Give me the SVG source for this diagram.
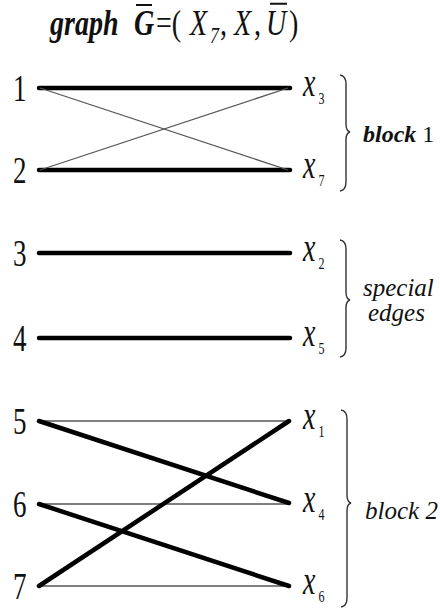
<svg xmlns="http://www.w3.org/2000/svg" width="440" height="609" viewBox="0 0 440 609" font-family="Liberation Serif, DejaVu Serif, serif">
<style>
text{fill:#111}
.num{font-size:27px}
.xl{font-size:28px;font-style:italic}
.sub{font-size:12px;font-style:normal}
.lab{font-size:25px;font-style:italic}
.thick{stroke:#000;stroke-width:4.5;stroke-linecap:round;fill:none}
.thin{stroke:#555;stroke-width:1.3;fill:none}
.br{stroke:#333;stroke-width:1.4;fill:none}
</style>
<g id="title" transform="translate(0,35) scale(1,1.25)">
<text x="50" y="0" font-size="28" font-style="italic" font-weight="bold">graph</text>
<text x="134" y="0" font-size="28" font-style="italic" font-weight="bold">G</text>
<line x1="136" y1="-24" x2="152" y2="-24" stroke="#111" stroke-width="1.6"/>
<text x="156" y="0" font-size="28">=(</text>
<text x="190" y="0" font-size="28" font-style="italic">X</text>
<text x="210" y="6" font-size="18" font-style="italic">7</text>
<text x="220" y="0" font-size="28">,</text>
<text x="234" y="0" font-size="28" font-style="italic">X</text>
<text x="254" y="0" font-size="28">,</text>
<text x="266" y="0" font-size="28" font-style="italic">U</text>
<line x1="270" y1="-25" x2="287" y2="-25" stroke="#111" stroke-width="1.6"/>
<text x="289" y="0" font-size="28">)</text>
</g>
<g id="connectors">
<line class="thick" x1="39" y1="88" x2="290" y2="88"/>
<line class="thick" x1="39" y1="170" x2="290" y2="170"/>
<line class="thin" x1="40" y1="88" x2="288" y2="170"/>
<line class="thin" x1="40" y1="170" x2="288" y2="88"/>
<line class="thick" x1="39" y1="253" x2="290" y2="253"/>
<line class="thick" x1="39" y1="338" x2="290" y2="338"/>
<line class="thin" x1="39" y1="421" x2="290" y2="421"/>
<line class="thin" x1="39" y1="504" x2="290" y2="504"/>
<line class="thin" x1="39" y1="586" x2="290" y2="586"/>
<line class="thick" x1="39" y1="421" x2="289" y2="503"/>
<line class="thick" x1="39" y1="504" x2="289" y2="586"/>
<line class="thick" x1="39" y1="586" x2="289" y2="421"/>
</g>
<g id="n1"><text class="num" transform="translate(13,101) scale(1,1.4)">1</text></g>
<g id="n2"><text class="num" transform="translate(13,183) scale(1,1.4)">2</text></g>
<g id="n3"><text class="num" transform="translate(13,266) scale(1,1.4)">3</text></g>
<g id="n4"><text class="num" transform="translate(13,351) scale(1,1.4)">4</text></g>
<g id="n5"><text class="num" transform="translate(13,434) scale(1,1.4)">5</text></g>
<g id="n6"><text class="num" transform="translate(13,517) scale(1,1.4)">6</text></g>
<g id="n7"><text class="num" transform="translate(13,599) scale(1,1.4)">7</text></g>
<g id="x3"><text class="xl" transform="translate(303,96) scale(1,1.4)">x<tspan class="sub" dx="3" dy="5.5">3</tspan></text></g>
<g id="x7"><text class="xl" transform="translate(303,178) scale(1,1.4)">x<tspan class="sub" dx="3" dy="5.5">7</tspan></text></g>
<g id="x2"><text class="xl" transform="translate(303,261) scale(1,1.4)">x<tspan class="sub" dx="3" dy="5.5">2</tspan></text></g>
<g id="x5"><text class="xl" transform="translate(303,346) scale(1,1.4)">x<tspan class="sub" dx="3" dy="5.5">5</tspan></text></g>
<g id="x1"><text class="xl" transform="translate(303,429) scale(1,1.4)">x<tspan class="sub" dx="3" dy="5.5">1</tspan></text></g>
<g id="x4"><text class="xl" transform="translate(303,512) scale(1,1.4)">x<tspan class="sub" dx="3" dy="5.5">4</tspan></text></g>
<g id="x6"><text class="xl" transform="translate(303,594) scale(1,1.4)">x<tspan class="sub" dx="3" dy="5.5">6</tspan></text></g>
<g id="block1">
<path class="br" d="M340,75 Q346,76 346,84 L346,124 Q346,131 350,132 Q346,133 346,140 L346,182 Q346,190 340,191"/>
<text x="363" y="142" font-size="24"><tspan font-style="italic" font-weight="bold">block</tspan> 1</text>
</g>
<g id="special">
<path class="br" d="M340,240 Q346,241 346,249 L346,292 Q346,299 350,300 Q346,301 346,308 L346,348 Q346,356 340,357"/>
<text class="lab" x="363" y="296">special</text>
<text class="lab" x="368" y="321">edges</text>
</g>
<g id="block2">
<path class="br" d="M341,410 Q347,411 347,419 L347,495 Q347,502 351,503 Q347,504 347,511 L347,598 Q347,606 341,607"/>
<text class="lab" x="365" y="519">block 2</text>
</g>
</svg>
